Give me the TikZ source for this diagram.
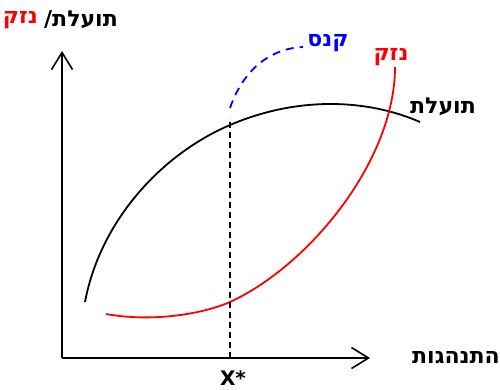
\documentclass[tikz,border=0pt]{standalone}
\usepackage{fontspec}
\setmainfont{DejaVu Sans}
\newfontfamily\hebfont[Script=Hebrew]{DejaVu Sans}
\TeXXeTstate=1
\usetikzlibrary{arrows.meta,positioning}

\begin{document}
\begin{tikzpicture}[x=1pt,y=-1pt,
axis/.style={line width=2pt,-{Straight Barb[length=17pt,width=21pt,line width=1.6pt]}},
curve/.style={line width=1.8pt},
heb/.style={font=\hebfont\fontsize{22}{26}\selectfont\bfseries,inner sep=0pt},
lbl/.style={font=\fontsize{20}{24}\selectfont\bfseries,inner sep=0pt}]
\useasboundingbox (0,0) rectangle (500,389);
% axes
\coordinate (o) at (62,358);
\coordinate (ytop) at (62,51);
\coordinate (xend) at (370,358);
\draw[axis] (o)--(ytop);
\draw[axis] (o)--(xend);
% curves
\draw[curve] (85,302) .. controls (100,222) and (160,155) .. (230,125)
  .. controls (300,95) and (370,100) .. (420,122);
\draw[curve,red] (106,314) .. controls (150,322) and (200,315) .. (230,302)
  .. controls (310,265) and (395,160) .. (395,67);
\draw[curve,blue,dash pattern=on 8pt off 6pt] (230,108) .. controls (245,65) and (275,48) .. (303,47);
% optimum
\coordinate (xs) at (230,358);
\coordinate (xsup) at (230,118);
\draw[line width=1.8pt,dash pattern=on 6pt off 4pt] (xs)--(xsup);
% labels
\node[heb,anchor=east] (ylab) at (118,20) {\beginR תועלת/\endR};
\node[heb,red,left=6pt of ylab] (ylabred) {\beginR נזק\endR};
\node[heb] (xlab) at (456,358) {\beginR התנהגות\endR};
\node[lbl] (xstar) at (233,378) {X*};
\node[heb,blue] (fine) at (328,43) {\beginR קנס\endR};
\node[heb,red] (harm) at (391,57) {\beginR נזק\endR};
\node[heb] (gain) at (443,107) {\beginR תועלת\endR};
\end{tikzpicture}
\end{document}
